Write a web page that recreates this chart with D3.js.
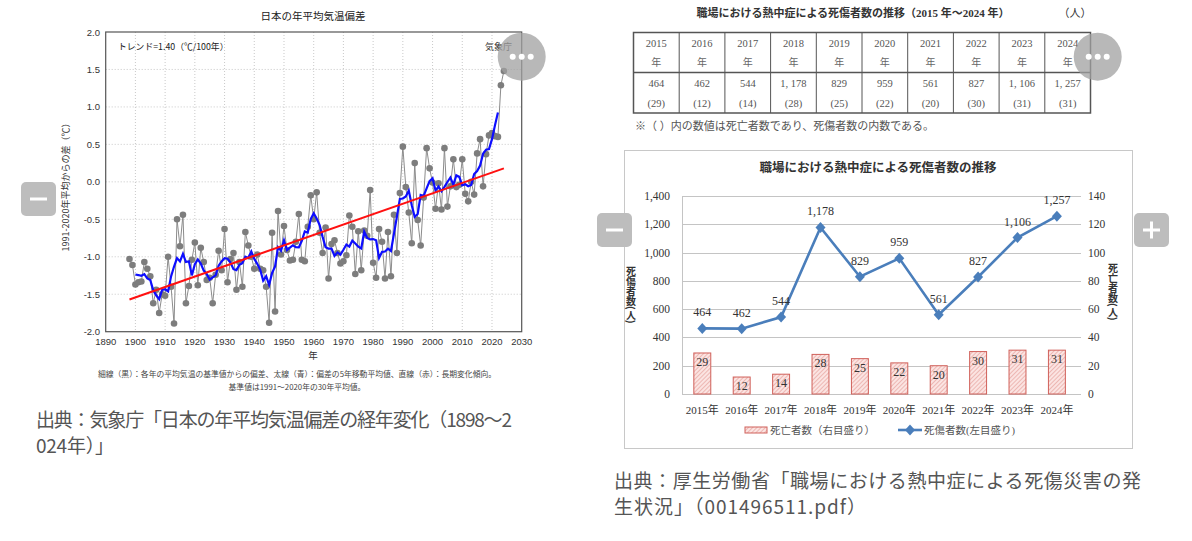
<!DOCTYPE html>
<html><head><meta charset="utf-8">
<script src="https://cdn.jsdelivr.net/npm/d3@7"></script>
<style>
html,body{margin:0;padding:0;background:#fff;}
svg{display:block;}
</style></head><body>
<svg id="c" width="1192" height="541"></svg>
<script>
// ---------- Data: Japan annual mean temperature anomaly (JMA) ----------
const tempFirstYear = 1898;
const tempAnomaly = [
  -1.03,-1.11,-1.37,-1.34,-1.33,-1.07,-1.16,-1.26,-1.62,-1.44,
  -1.75,-1.50,-1.52,-1.00,-1.40,-1.89,-0.50,-0.86,-0.44,-1.62,
  -1.39,-1.04,-0.81,-1.38,-0.88,-1.07,-1.31,-1.28,-1.62,-1.24,
  -0.92,-1.18,-0.63,-1.34,-1.03,-0.95,-1.44,-1.07,-1.40,-0.67,
  -0.85,-1.00,-1.16,-0.97,-1.16,-1.18,-1.40,-1.88,-0.68,-1.73,
  -0.39,-0.97,-0.59,-0.91,-1.05,-1.04,-0.80,-0.43,-1.04,-1.06,
  -0.60,-0.18,-0.50,-0.14,-0.68,-0.95,-0.61,-1.29,-0.83,-0.78,
  -0.95,-1.09,-1.06,-0.98,-0.45,-0.60,-1.23,-0.66,-1.18,-0.65,
  -0.72,-0.11,-1.08,-1.28,-0.63,-0.80,-1.29,-0.67,-1.26,-0.44,
  -0.95,-0.15, 0.47,-0.07,-0.41,-0.82, 0.25,-0.51,-0.85,-0.21,
   0.45, 0.18,-0.01,-0.36,-0.02,-0.37, 0.45,-0.33,-0.06, 0.30,
  -0.07,-0.04, 0.30,-0.16,-0.26, 0.00,-0.17, 0.38, 0.57,-0.06,
   0.37, 0.62, 0.65, 0.61, 0.60, 1.29, 1.48
];
const trendYears = [1898, 2024];
const trendValues = [-1.57, 0.18];
const tempXTicks = [1890,1900,1910,1920,1930,1940,1950,1960,1970,1980,1990,2000,2010,2020,2030];
const tempYTicks = [2.0,1.5,1.0,0.5,0.0,-0.5,-1.0,-1.5,-2.0];

// ---------- Data: workplace heatstroke casualties (MHLW) ----------
const heatYears = ["2015","2016","2017","2018","2019","2020","2021","2022","2023","2024"];
const casualties = [464,462,544,1178,829,959,561,827,1106,1257];
const deaths = [29,12,14,28,25,22,20,30,31,31];
const leftTicks = [0,200,400,600,800,1000,1200,1400];
const rightTicks = [0,20,40,60,80,100,120,140];

const SANS = "'Liberation Sans','Noto Sans CJK JP',sans-serif";
const SERIF = "'Liberation Serif','Noto Sans CJK JP',serif";
const JP = "'Noto Sans CJK JP','Noto Sans',sans-serif";

const svg = d3.select("#c");

// ================= LEFT CHART =================
const tData = tempAnomaly.map((v,i)=>({year: tempFirstYear+i, v}));
const xT = d3.scaleLinear().domain([1890,2030]).range([105.7,521.7]);
const yT = d3.scaleLinear().domain([-2,2]).range([331.7,32]);
const L = svg.append("g");

L.append("text").attr("x",313).attr("y",20).attr("text-anchor","middle")
  .attr("font-family",JP).attr("font-size",10.5).attr("fill","#222").text("日本の年平均気温偏差");

L.selectAll(".gx").data(tempXTicks.slice(1,-1)).join("line")
  .attr("x1",d=>xT(d)).attr("x2",d=>xT(d)).attr("y1",32).attr("y2",331.7)
  .attr("stroke","#bbb").attr("stroke-width",0.8).attr("stroke-dasharray","1,2");
L.selectAll(".gy").data(tempYTicks.slice(1,-1)).join("line")
  .attr("x1",105.7).attr("x2",521.7).attr("y1",d=>yT(d)).attr("y2",d=>yT(d))
  .attr("stroke","#bbb").attr("stroke-width",0.8).attr("stroke-dasharray","1,2");

L.append("rect").attr("x",105.7).attr("y",32).attr("width",416).attr("height",299.7)
  .attr("fill","none").attr("stroke","#555").attr("stroke-width",1.2);

L.selectAll(".yl").data(tempYTicks).join("text")
  .attr("x",100).attr("y",d=>yT(d)+3.5).attr("text-anchor","end")
  .attr("font-family",SANS).attr("font-size",9.5).attr("fill","#333")
  .text(d=>d.toFixed(1));
L.selectAll(".xl").data(tempXTicks).join("text")
  .attr("x",d=>xT(d)).attr("y",345).attr("text-anchor","middle")
  .attr("font-family",SANS).attr("font-size",9.5).attr("fill","#333").text(d=>d);
L.append("text").attr("x",313).attr("y",359).attr("text-anchor","middle")
  .attr("font-family",JP).attr("font-size",9.5).attr("fill","#333").text("年");
L.append("text").attr("transform","translate(69,185) rotate(-90)").attr("text-anchor","middle")
  .attr("font-family",JP).attr("font-size",9).attr("fill","#333").text("1991-2020年平均からの差（℃）");
L.append("text").attr("x",297).attr("y",377).attr("text-anchor","middle")
  .attr("font-family",JP).attr("font-size",7.8).attr("fill","#444")
  .text("細線（黒）：各年の平均気温の基準値からの偏差、太線（青）：偏差の5年移動平均値、直線（赤）：長期変化傾向。");
L.append("text").attr("x",297).attr("y",390).attr("text-anchor","middle")
  .attr("font-family",JP).attr("font-size",7.8).attr("fill","#444")
  .text("基準値は1991～2020年の30年平均値。");
L.append("text").attr("x",118).attr("y",50)
  .attr("font-family",JP).attr("font-size",8.8).attr("fill","#222").text("トレンド=1.40（℃/100年）");
L.append("text").attr("x",512).attr("y",50).attr("text-anchor","end")
  .attr("font-family",JP).attr("font-size",9).attr("fill","#333").text("気象庁");

const lineT = d3.line().x(d=>xT(d.year)).y(d=>yT(d.v));
L.append("path").datum(tData).attr("d",lineT).attr("fill","none").attr("stroke","#8c8c8c").attr("stroke-width",1);
L.selectAll(".pt").data(tData).join("circle")
  .attr("cx",d=>xT(d.year)).attr("cy",d=>yT(d.v)).attr("r",3.3).attr("fill","#7d7d7d");
// 5-year centred moving average of the yearly values
const ma = tData.slice(2,-2).map((d,i)=>({year:d.year, v:d3.mean(tData.slice(i,i+5),e=>e.v)}));
L.append("path").datum(ma).attr("d",lineT).attr("fill","none").attr("stroke","#0d0dff").attr("stroke-width",2.2);
const trend = trendYears.map((y,i)=>({year:y, v:trendValues[i]}));
L.append("path").datum(trend).attr("d",lineT).attr("fill","none").attr("stroke","#ff1010").attr("stroke-width",2);

// ================= TABLE =================
const T = svg.append("g");
T.append("text").attr("x",853).attr("y",17).attr("text-anchor","middle")
  .attr("font-family",SERIF).attr("font-size",11).attr("font-weight",600).attr("fill","#333")
  .text("職場における熱中症による死傷者数の推移（2015 年～2024 年）");
T.append("text").attr("x",1075).attr("y",17).attr("text-anchor","middle")
  .attr("font-family",SERIF).attr("font-size",11).attr("fill","#333").text("（人）");
const xTab = d3.scaleBand().domain(heatYears).range([633.5,1090.5]);
T.append("rect").attr("x",633.5).attr("y",32.5).attr("width",457).attr("height",80.5)
  .attr("fill","none").attr("stroke","#555").attr("stroke-width",1.5);
T.append("line").attr("x1",633.5).attr("x2",1090.5).attr("y1",72.5).attr("y2",72.5).attr("stroke","#555").attr("stroke-width",1.3);
T.selectAll(".vl").data(heatYears.slice(1)).join("line")
  .attr("x1",d=>xTab(d)).attr("x2",d=>xTab(d)).attr("y1",32.5).attr("y2",113)
  .attr("stroke","#555").attr("stroke-width",1);
const cx = d=>xTab(d)+xTab.bandwidth()/2;
const fmtTab = v => v>=1000 ? Math.floor(v/1000)+", "+String(v%1000).padStart(3,"0") : String(v);
T.selectAll(".ty").data(heatYears).join("text").attr("x",cx).attr("y",47).attr("text-anchor","middle")
  .attr("font-family",SERIF).attr("font-size",10.5).attr("fill","#555").text(d=>d);
T.selectAll(".tn").data(heatYears).join("text").attr("x",cx).attr("y",66).attr("text-anchor","middle")
  .attr("font-family",SERIF).attr("font-size",10).attr("fill","#666").text("年");
T.selectAll(".tv").data(heatYears).join("text").attr("x",cx).attr("y",87).attr("text-anchor","middle")
  .attr("font-family",SERIF).attr("font-size",10.5).attr("fill","#555").text((d,i)=>fmtTab(casualties[i]));
T.selectAll(".td").data(heatYears).join("text").attr("x",cx).attr("y",107).attr("text-anchor","middle")
  .attr("font-family",SERIF).attr("font-size",10.5).attr("fill","#555").text((d,i)=>"("+deaths[i]+")");
T.append("text").attr("x",635).attr("y",130)
  .attr("font-family",SERIF).attr("font-size",11).attr("fill","#555")
  .text("※（ ）内の数値は死亡者数であり、死傷者数の内数である。");

// ================= RIGHT CHART =================
const R = svg.append("g");
const defs = svg.append("defs");
const pat = defs.append("pattern").attr("id","hatch").attr("patternUnits","userSpaceOnUse")
  .attr("width",3).attr("height",3).attr("patternTransform","rotate(45)");
pat.append("rect").attr("width",3).attr("height",3).attr("fill","#fbe4e2");
pat.append("line").attr("x1",0).attr("y1",0).attr("x2",0).attr("y2",3).attr("stroke","#e08a84").attr("stroke-width",1);

R.append("rect").attr("x",624.5).attr("y",150.5).attr("width",508).attr("height",298)
  .attr("fill","#fff").attr("stroke","#c8c8c8").attr("stroke-width",1);
R.append("text").attr("x",878).attr("y",172).attr("text-anchor","middle")
  .attr("font-family",JP).attr("font-weight","bold").attr("font-size",12.5).attr("fill","#333")
  .text("職場における熱中症による死傷者数の推移");

const xB = d3.scaleBand().domain(heatYears).range([682.6,1076.6]).paddingInner(0.57).paddingOuter(0.285);
const yL = d3.scaleLinear().domain([0,1400]).range([394,196]);
const yR = d3.scaleLinear().domain([0,140]).range([394,196]);
const bc = d=>xB(d)+xB.bandwidth()/2;

R.selectAll(".grid").data(leftTicks).join("line")
  .attr("x1",682).attr("x2",1081).attr("y1",d=>Math.round(yL(d))+0.5).attr("y2",d=>Math.round(yL(d))+0.5)
  .attr("stroke","#c4c4c4").attr("stroke-width",1);
R.append("line").attr("x1",682.5).attr("x2",682.5).attr("y1",196).attr("y2",394).attr("stroke","#c4c4c4");
R.selectAll(".ll").data(leftTicks).join("text")
  .attr("x",670).attr("y",d=>yL(d)+4).attr("text-anchor","end")
  .attr("font-family",SERIF).attr("font-size",11.5).attr("fill","#333").text(d=>d3.format(",")(d));
R.selectAll(".rl").data(rightTicks).join("text")
  .attr("x",1088).attr("y",d=>yR(d)+4).attr("text-anchor","start")
  .attr("font-family",SERIF).attr("font-size",11.5).attr("fill","#333").text(d=>d);
R.selectAll(".xl").data(heatYears).join("text")
  .attr("x",bc).attr("y",414).attr("text-anchor","middle")
  .attr("font-family",SERIF).attr("font-size",11).attr("fill","#333").text(d=>d+"年");

R.append("text").attr("x",631).attr("y",266).style("writing-mode","vertical-rl")
  .attr("font-family",JP).attr("font-weight","bold").attr("font-size",10).attr("fill","#333").text("死傷者数(人)");
R.append("text").attr("x",1113).attr("y",263).style("writing-mode","vertical-rl")
  .attr("font-family",JP).attr("font-weight","bold").attr("font-size",10).attr("fill","#333").text("死亡者数(人)");

R.selectAll(".bar").data(heatYears).join("rect")
  .attr("x",d=>xB(d)).attr("width",xB.bandwidth())
  .attr("y",(d,i)=>yR(deaths[i])).attr("height",(d,i)=>394-yR(deaths[i]))
  .attr("fill","url(#hatch)").attr("stroke","#d0605a").attr("stroke-width",1);
R.selectAll(".bl").data(heatYears).join("text")
  .attr("x",bc).attr("y",(d,i)=>yR(deaths[i])+13).attr("text-anchor","middle")
  .attr("font-family",SERIF).attr("font-size",12).attr("fill","#333").text((d,i)=>deaths[i]);

const cData = heatYears.map((d,i)=>({k:d, v:casualties[i]}));
R.append("path").datum(cData)
  .attr("d",d3.line().x(d=>bc(d.k)).y(d=>yL(d.v)))
  .attr("fill","none").attr("stroke","#4a7ebb").attr("stroke-width",2.6);
const diamond = (x,y)=>`M${x},${y-5.5}L${x+5},${y}L${x},${y+5.5}L${x-5},${y}Z`;
R.selectAll(".dm").data(cData).join("path")
  .attr("d",d=>diamond(bc(d.k),yL(d.v))).attr("fill","#4a7ebb");
R.selectAll(".cl").data(cData).join("text")
  .attr("x",d=>bc(d.k)).attr("y",d=>yL(d.v)-12).attr("text-anchor","middle")
  .attr("font-family",SERIF).attr("font-size",12).attr("fill","#333").text(d=>d3.format(",")(d.v));

// legend
R.append("rect").attr("x",745).attr("y",427).attr("width",22).attr("height",6)
  .attr("fill","url(#hatch)").attr("stroke","#d0605a");
R.append("text").attr("x",770).attr("y",434).attr("font-family",SERIF).attr("font-size",10.5).attr("fill","#555").text("死亡者数（右目盛り）");
R.append("line").attr("x1",898).attr("x2",922).attr("y1",430).attr("y2",430).attr("stroke","#4a7ebb").attr("stroke-width",2.6);
R.append("path").attr("d",diamond(910,430)).attr("fill","#4a7ebb");
R.append("text").attr("x",924).attr("y",434).attr("font-family",SERIF).attr("font-size",10.5).attr("fill","#555").text("死傷者数(左目盛り)");

// ================= CAPTIONS =================
const cap = [
  {x:36,y:427,w:476,t:"出典：気象庁「日本の年平均気温偏差の経年変化（1898～2"},
  {x:36,y:453,w:78,t:"024年）」"},
  {x:614,y:488,w:527,t:"出典：厚生労働省「職場における熱中症による死傷災害の発"},
  {x:614,y:514,w:252,t:"生状況」（001496511.pdf）"}
];
svg.selectAll(".cap").data(cap).join("text")
  .attr("x",d=>d.x).attr("y",d=>d.y).attr("font-family",JP).attr("font-size",19)
  .attr("textLength",d=>d.w).attr("lengthAdjust","spacing")
  .attr("fill","#555").text(d=>d.t);

// ================= OVERLAY BUTTONS =================
const O = svg.append("g");
[[521.7,56.7],[1097.7,56.7]].forEach(([x,y])=>{
  O.append("circle").attr("cx",x).attr("cy",y).attr("r",24).attr("fill","#a0a0a0").attr("opacity",0.75);
  [-9,0,9].forEach(dx=>O.append("circle").attr("cx",x+dx).attr("cy",y).attr("r",3).attr("fill","#fff"));
});
[[21,182,"-"],[597,213,"-"],[1134,213,"+"]].forEach(([x,y,s])=>{
  O.append("rect").attr("x",x).attr("y",y).attr("width",35).attr("height",34).attr("rx",5).attr("fill","#bdbdbd");
  O.append("rect").attr("x",x+9).attr("y",y+15.5).attr("width",17).attr("height",3).attr("fill","#fff");
  if(s==="+") O.append("rect").attr("x",x+16).attr("y",y+8.5).attr("width",3).attr("height",17).attr("fill","#fff");
});
</script>
</body></html>
